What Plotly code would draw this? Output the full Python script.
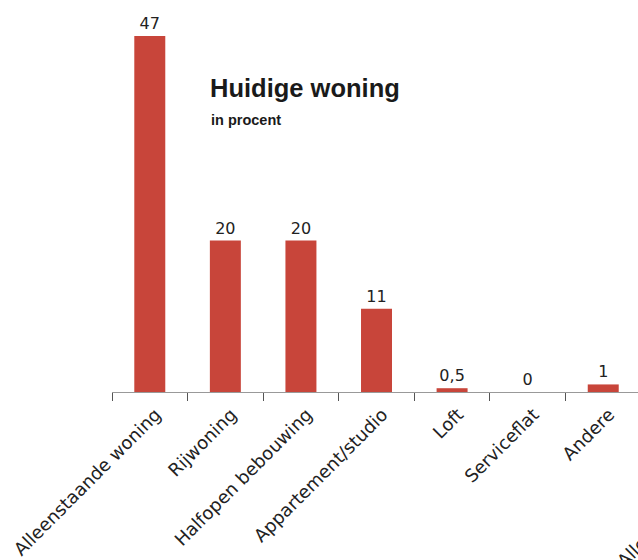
import plotly.graph_objects as go

categories = ["Alleenstaande woning", "Rijwoning", "Halfopen bebouwing",
              "Appartement/studio", "Loft", "Serviceflat", "Andere"]
values = [47, 20, 20, 11, 0.5, 0, 1]
value_labels = ["47", "20", "20", "11", "0,5", "0", "1"]

bar_color = "#c8453a"
label_font = "DejaVu Sans"

fig = go.Figure(go.Bar(
    x=categories, y=values, text=value_labels, textposition="outside",
    marker=dict(color=bar_color, line=dict(width=0)), width=0.41,
    textfont=dict(family=label_font, size=16, color="#222"),
    cliponaxis=False, hoverinfo="skip",
))

fig.update_layout(
    width=638, height=560,
    margin=dict(l=112, r=0, t=36, b=168),
    paper_bgcolor="white", plot_bgcolor="white",
    showlegend=False,
    font=dict(family=label_font, color="#222"),
    xaxis=dict(range=[-0.5, 6.46], tickangle=-45, ticks="outside",
               tickson="boundaries", ticklen=8, tickcolor="#555",
               ticklabelshift=6, ticklabelstandoff=4,
               showline=True, linecolor="#999", linewidth=1,
               showgrid=False, tickfont=dict(size=18, color="#222")),
    yaxis=dict(visible=False, range=[0, 47]),
    annotations=[
        dict(text="<b>Huidige woning</b>", xref="paper", yref="paper",
             x=(208 - 112) / 526, y=1 - (88 - 36) / 356, xanchor="left",
             yanchor="middle", showarrow=False,
             font=dict(family="Liberation Sans", size=25.5, color="#1a1a1a")),
        dict(text="<b>in procent</b>", xref="paper", yref="paper",
             x=(209 - 112) / 526, y=1 - (120 - 36) / 356, xanchor="left",
             yanchor="middle", showarrow=False,
             font=dict(family="Liberation Sans", size=14.5, color="#1a1a1a")),
        dict(text="Alleenstaande woning", xref="paper", yref="paper",
             x=(610 - 112) / 526, y=-(574 - 392) / 356, xanchor="left",
             yanchor="bottom", textangle=-45, showarrow=False,
             font=dict(size=18, color="#222")),
    ],
)

fig.write_html("out.html")
